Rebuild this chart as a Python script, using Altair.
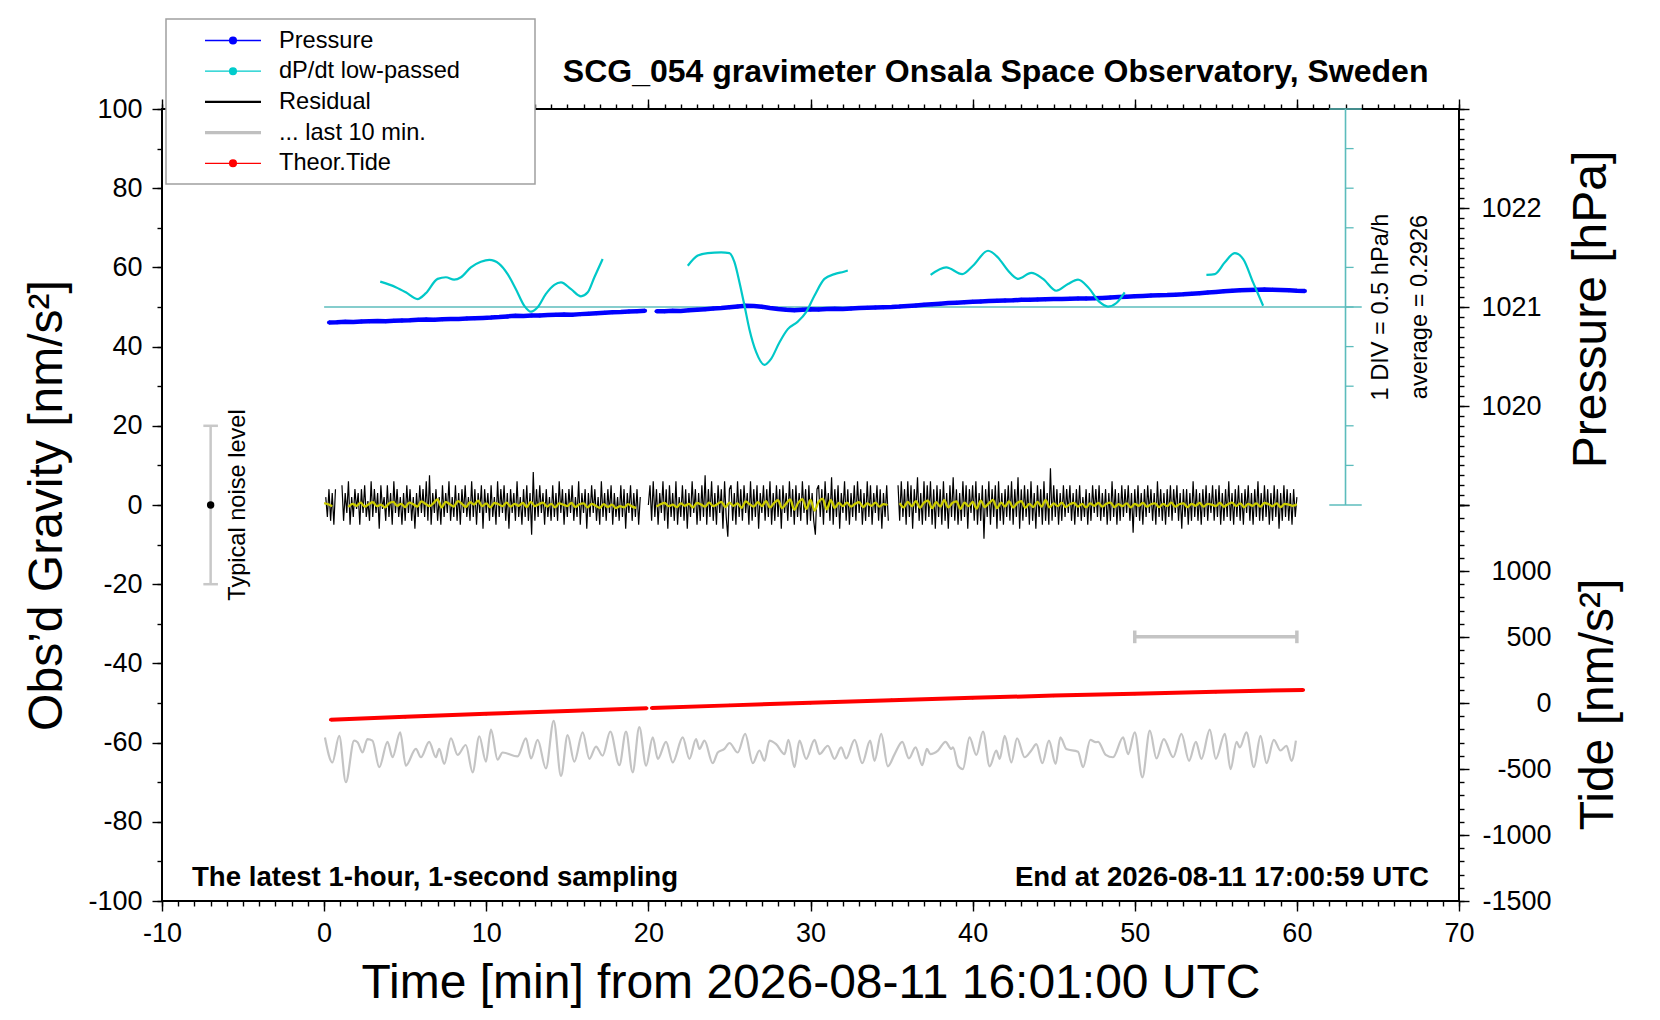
import altair as alt
import pandas as pd

FONT = "Liberation Sans"

# ---------------- texts ----------------
chart_title = "SCG_054 gravimeter Onsala Space Observatory, Sweden"
x_title = "Time [min] from 2026-08-11 16:01:00 UTC"
y_title = "Obs\u2019d Gravity [nm/s\u00b2]"
p_title = "Pressure [hPa]"
t_title = "Tide [nm/s\u00b2]"
foot_left = "The latest 1-hour, 1-second sampling"
foot_right = "End at 2026-08-11 17:00:59 UTC"
noise_label = "Typical noise level"
div_label = "1 DIV = 0.5 hPa/h"
avg_label = "average = 0.2926"

series_names = ["Pressure", "dP/dt low-passed", "Residual", "... last 10 min.", "Theor.Tide"]
series_colors = ["#0000ff", "#00cccc", "#000000", "#c0c0c0", "#ff0000"]

AVG = 0.2926   # hPa/h, drawn at gravity 50
DIV = 0.5      # hPa/h per 10 nm/s^2 division

x_domain = [-10, 70]
g_domain = [-100, 100]
p_domain = [1015, 1023]      # 1019..1023 hPa spans gravity 0..100
t_domain = [-1500, 4500]     # -1500..1500 nm/s^2 spans gravity -100..0
d_domain = [AVG - 15 * DIV, AVG + 5 * DIV]

# ---------------- data ----------------
# residual gravity (nm/s^2), every 0.1 min from t = 0.1
residual_vals = [float(v) for v in """
2 -3 4 -4 3 -5 4 1 0 -2
5 -4 3 -2 6 -5 2 -3 4 -1
3 -5 4 -2 5 -3 1 -4 6 -3
4 -2 3 -6 5 -1 2 -4 5 -3
3 -5 6 -2 4 -3 2 -5 3 -4
5 -2 4 -4 2 -6 3 -3 5 -2
4 -3 6 -4 7.5 -5 3 -2 4 -4
2 -5 5 -3 3 -2 6 -4 2 -3
5 -4 3 -5 4 -2 5 -3 2 -4
6 -3 4 -5 3 -2 5 -6 4 -2
3 -4 5 -3 2 -5 6 -3 4 -2
5 -4 3 -6 4 -2 3 -4 6 -3
2 -5 4 -3 5 -4 3 -7.5 8.3 -4
4 -3 5 -2 3 -5 4 -3 2 -4
5 -3 3 -4 6 -2 4 -5 3 -3
4 -2 5 -4 2 -3 6 -5 3 -2
4 -6 3 -3 5 -2 4 -4 2 -5
6 -3 3 -4 4 -2 5 -5 3 -3
2 -4 5 -3 4 -6 3 -2 5 -4
3 -3 4 -5 2 0 0 0 0 0
5 -4 6 -3 4 -5 3 -2 6 -4
4 -6 5 -3 3 -4 6 -5 2 -3
5 -4 4 -6 3 -3 6 -2 4 -5
3 -4 5 -3 7.5 -5 4 -3 6 -4
3 -5 5 -2 4 -6 6 -3 -8 4
5 -4 3 -5 6 -3 4 -4 5 -2
3 -5 6 -4 4 -3 5 -6 3 -2
5 -4 4 -3 6 -5 3 -4 5 -3
4 -6 5 -2 3 -4 6 -3 4 -5
5 -3 3 -4 6 -2 4 -5 5 -4
3 -4 -7.5 4 5 -3 4 -5 6 -2
3 -4 7 -5 4 -3 5 -6 3 -2
6 -4 4 -5 3 -3 5 -4 6 -2
4 -5 3 -4 6 -3 5 -5 3 -2
5 -4 4 -6 3 -3 5 -4 0 0
0 0 0 5 -4 6 -3 4 -5 6
-3 5 -6 4 -2 7 -4 3 -5 6
-4 5 -3 6 -5 4 -6 5 -3 4
-5 6 -4 3 -6 5 -3 7 -4 4
-5 3 -4 6 -3 5 -6 4 -2 5
-4 6 -5 3 -4 5 -8.5 4 -3 6
-5 4 -3 5 -6 6 -4 3 -5 4
-3 5 -4 6 -5 4 -3 7 -6 4
-4 5 -3 4 -5 6 -4 3 -6 5
-3 4 -5 6 -4 3 -5 9.3 -4 5
-3 4 -5 3 -4 5 -3 4 -2 5
-4 3 -5 4 -3 5 -4 2 -3 4
-5 3 -4 5 -2 4 -3 5 -4 3
-3 4 -5 3 -4 6 -3 4 -5 3
-4 5 -3 4 -2 5 -4 3 -7 4
-3 5 -4 3 -5 4 -3 5 -2 4
-4 3 -5 6 -3 4 -4 3 -5 4
-3 5 -4 4 -2 5 -4 3 -6 4
-3 4 -5 3 -4 6 -3 4 -4 3
-5 4 -3 5 -4 3 -2 5 -4 4
-3 5 -5 3 -4 4 -3 6 -4 3
-5 4 -3 5 -4 3 -5 4 -2 5
-4 3 -5 4 -3 6 -4 3 -4 5
-3 4 -5 3 -4 5 -3 4 -6 3
-4 5 -3 4 -4 3 -5 4 -3 2
""".split()]
residual_gaps = [(0.72, 1.03), (19.55, 20.0), (34.84, 35.36)]

# low-passed residual (yellow), every 0.25 min from t = 0
smooth_vals = [float(v) for v in """
0.5 0.2 -0.3 0 0 0.4 -0.5 0.3 -0.2 0.6
-0.4 0.2 0.7 -0.3 0.1 -0.6 0.4 0.8 -0.2 0.3
-0.5 0.6 0.2 -0.4 0.9 0.3 -0.3 0.5 1.4 -0.6
0.8 0.2 -0.4 1.0 0.3 -0.5 0.7 0.1 1.1 -0.3
0.4 -0.6 0.5 0.2 -0.3 0.6 -0.4 0.3 -0.2 0.5
-0.5 0.8 -0.3 0.2 0.6 -0.4 0.3 -0.6 0.4 0.1
-0.3 0.5 -0.5 0.2 0.4 -0.6 0.3 -0.2 -0.7 0.2
-0.5 0.1 -0.8 -0.3 -0.6 0.2 -0.4 -0.7 0 0
0 0.3 -0.4 0.2 0.5 -0.3 0.1 -0.5 0.4 -0.2
0.3 -0.6 0.5 0.1 -0.4 0.6 -0.3 0.2 0.8 -0.5
0.6 -0.2 0.4 -0.7 0.9 0.2 -0.4 0.7 -0.3 1.0
-0.6 0.5 1.2 -0.8 0.4 1.4 -1.2 0.6 1.5 -1.0
1.3 -1.4 0.8 1.6 -1.1 1.2 -0.7 0.5 -0.3 0.6
-0.4 0.3 0.7 -0.5 0.4 -0.2 0.6 -0.4 0.2 0
0 0 0.5 -0.6 0.8 -0.3 1.0 -0.7 0.6 1.1
-0.8 0.7 -0.4 1.2 -0.6 0.5 0.9 -1.0 0.6 -0.3
0.8 -0.9 1.1 -0.5 0.4 1.3 -0.8 0.6 -0.4 0.9
-0.6 0.5 1.0 -0.7 0.3 -0.5 0.8 -0.4 1.2 -0.6
0.4 -0.3 0.6 -0.5 0.2 0.5 -0.4 0.3 -0.6 0.4
-0.2 0.5 -0.4 0.3 0.6 -0.5 0.2 -0.3 0.4 -0.6
0.3 -0.2 0.5 -0.4 0.2 0.4 -0.5 0.3 -0.3 0.6
-0.4 0.2 0.4 -0.5 0.3 -0.2 0.5 -0.4 0.3 0.1
-0.3 0.5 -0.4 0.2 0.6 -0.3 0.4 -0.5 0.3 -0.2
0.4 -0.4 0.5 0.2 -0.3 0.4 -0.5 0.3 0.1 -0.2 0.2
""".split()]
smooth_gaps = [(0.65, 1.3), (19.35, 20.4), (34.8, 35.5)]

# "... last 10 min." trace (nm/s^2): turning points
last10_t = [0.05, 0.51, 0.93, 1.34, 1.85, 2.06, 2.37, 2.67, 2.98, 3.40, 3.91, 4.22, 4.69, 5.04,
            5.66, 5.97, 6.48, 6.89, 7.10, 7.41, 7.82, 8.23, 8.74, 9.16, 9.57, 9.98, 10.29, 10.70,
            11.01, 11.93, 12.45, 12.76, 13.17, 13.68, 14.16, 14.61, 15.02, 15.43, 15.95, 16.36,
            16.77, 17.18, 17.65, 18.21, 18.62, 19.03, 19.44, 19.86, 20.27, 20.58, 21.09, 21.50,
            22.12, 22.53, 22.94, 23.15, 23.46, 23.97, 24.28, 24.69, 25.00, 25.51, 25.97, 26.44,
            26.85, 27.16, 27.47, 27.88, 28.40, 28.64, 29.01, 29.32, 29.73, 30.25,
            30.56, 31.07, 31.48, 31.89, 32.20, 32.72, 33.19, 33.68, 33.95, 34.36, 34.77, 35.19,
            35.66, 36.07, 36.48, 36.89, 37.18, 37.39, 37.86, 38.33, 38.68, 38.79, 39.10, 39.40,
            39.81, 40.23, 40.64, 41.05, 41.46, 41.67, 41.98, 42.39, 42.74, 43.21, 43.62, 43.93,
            44.30, 44.71, 45.12, 45.41, 45.78, 46.50, 46.81, 47.26, 47.59, 47.74, 48.21, 48.66,
            49.28, 49.59, 50.00, 50.47, 50.93, 51.34, 51.79, 52.37, 52.88, 53.35, 53.77, 54.11,
            54.63, 55.00, 55.56, 55.91, 56.28, 56.48, 56.89, 57.35, 57.76, 58.13, 58.58, 58.99,
            59.36, 59.67, 59.94]
last10_v = [-58.7, -65.0, -58.3, -70.0, -59.5, -59.9, -62.5, -59.1, -59.5, -66.2, -59.8, -63.7,
            -57.4, -65.8, -61.6, -63.7, -59.8, -63.7, -61.6, -65.4, -58.9, -63.1, -60.6, -67.5,
            -58.4, -64.8, -56.7, -64.3, -62.5, -63.5, -58.9, -64.0, -59.3, -66.5, -54.5, -68.4,
            -58.1, -64.8, -57.4, -64.1, -61.0, -63.3, -57.2, -65.7, -57.2, -67.5, -56.1, -65.8,
            -58.7, -64.1, -59.8, -65.0, -58.7, -64.1, -59.1, -61.6, -59.5, -65.2, -62.5, -61.6,
            -60.1, -62.5, -57.8, -65.2, -62.0, -64.6, -59.5, -60.4, -62.9, -59.3, -66.2, -59.5,
            -64.1, -59.3,
            -62.9, -60.8, -64.1, -61.2, -64.0, -59.3, -65.2, -59.5, -64.6, -57.8, -66.0, -62.9,
            -59.8, -64.0, -61.2, -65.7, -61.6, -62.9, -62.0, -59.8, -61.6, -61.2, -65.8, -66.7,
            -58.7, -63.1, -57.2, -66.0, -62.0, -64.1, -58.3, -65.0, -58.9, -63.7, -62.0, -60.4,
            -65.2, -59.5, -65.4, -58.7, -61.6, -62.3, -66.2, -59.3, -59.9, -59.8, -63.1, -63.7,
            -58.7, -62.9, -57.4, -68.8, -57.0, -64.0, -59.1, -63.7, -57.8, -64.6, -59.8, -64.1,
            -56.7, -64.1, -57.8, -66.7, -59.8, -61.2, -57.4, -66.2, -58.3, -65.2, -59.3, -62.0,
            -60.8, -64.6, -59.5]

# pressure (hPa), every 0.5 min: part 1 from 0.3 min, part 2 from 20.5 min
pressure_1 = [1020.844, 1020.846, 1020.850, 1020.848, 1020.853, 1020.856, 1020.858, 1020.855,
              1020.861, 1020.864, 1020.866, 1020.870, 1020.873, 1020.871, 1020.877, 1020.880,
              1020.878, 1020.884, 1020.887, 1020.890, 1020.893, 1020.898, 1020.905, 1020.912,
              1020.910, 1020.915, 1020.913, 1020.918, 1020.921, 1020.924, 1020.922, 1020.928,
              1020.933, 1020.937, 1020.942, 1020.947, 1020.950, 1020.955, 1020.958, 1020.962]
pressure_2 = [1020.956, 1020.958, 1020.962, 1020.960, 1020.966, 1020.972, 1020.978, 1020.984,
              1020.990, 1020.998, 1021.006, 1021.012, 1021.010, 1021.002, 1020.990, 1020.980,
              1020.972, 1020.968, 1020.972, 1020.976, 1020.974, 1020.980, 1020.982, 1020.980,
              1020.986, 1020.990, 1020.992, 1020.995, 1020.998, 1021.000, 1021.004, 1021.010,
              1021.016, 1021.022, 1021.028, 1021.034, 1021.040, 1021.044, 1021.048, 1021.052,
              1021.056, 1021.060, 1021.064, 1021.066, 1021.068, 1021.072, 1021.074, 1021.076,
              1021.078, 1021.080, 1021.082, 1021.084, 1021.085, 1021.087, 1021.088, 1021.092,
              1021.096, 1021.100, 1021.104, 1021.108, 1021.112, 1021.116, 1021.118, 1021.120,
              1021.124, 1021.128, 1021.134, 1021.140, 1021.146, 1021.152, 1021.158, 1021.164,
              1021.168, 1021.172, 1021.175, 1021.176, 1021.174, 1021.172, 1021.168, 1021.164,
              1021.162]

# theoretical tide (nm/s^2)
tide_t1 = [0.4, 5, 10, 15, 19.9]
tide_v1 = [-126, -104, -82, -60, -39]
tide_t2 = [20.2, 25, 30, 35, 40, 45, 50, 55, 60.4]
tide_v2 = [-38, -18, 2, 21, 39, 56, 71, 86, 99]

# dP/dt low-passed (hPa/h), four pieces
dpdt_t1 = [3.46, 4.42, 5.04, 5.76, 6.28, 7.0, 7.51, 8.02, 8.44, 9.05, 9.67, 10.19, 10.8, 11.32,
           11.83, 12.35, 12.76, 13.17, 13.68, 14.2, 14.61, 15.23, 15.84, 16.26, 16.67, 17.18]
dpdt_v1 = [0.613, 0.543, 0.478, 0.393, 0.468, 0.648, 0.668, 0.638, 0.668, 0.793, 0.863, 0.888,
           0.838, 0.708, 0.518, 0.308, 0.233, 0.288, 0.458, 0.573, 0.603, 0.518, 0.428, 0.478,
           0.668, 0.898]
dpdt_t2 = [22.43, 23.05, 23.66, 24.49, 25.0, 25.31, 25.62, 25.93, 26.23, 26.65, 27.16, 27.57,
           28.09, 28.6, 29.22, 29.73, 30.25, 30.86, 31.48, 32.06, 32.3]
dpdt_v2 = [0.813, 0.943, 0.973, 0.983, 0.973, 0.858, 0.603, 0.308, 0.013, -0.277, -0.437, -0.362,
           -0.152, 0.013, 0.108, 0.228, 0.438, 0.648, 0.708, 0.738, 0.753]
dpdt_t3 = [37.41, 38.37, 39.36, 40.02, 40.95, 41.56, 42.18, 42.8, 43.62, 44.34, 45.16, 45.88,
           46.5, 47.12, 47.84, 48.35, 48.87, 49.38]
dpdt_v3 = [0.698, 0.793, 0.708, 0.813, 1.003, 0.918, 0.753, 0.648, 0.723, 0.648, 0.498, 0.583,
           0.638, 0.543, 0.353, 0.298, 0.343, 0.478]
dpdt_t4 = [54.42, 54.94, 55.56, 56.17, 56.69, 57.3, 57.92]
dpdt_v4 = [0.698, 0.708, 0.858, 0.973, 0.898, 0.603, 0.308]

noise_t, noise_half = -7, 20          # typical noise level bar
last10_bar = (50, 60, -33.3)          # gray bar marking the last 10 minutes

# ---------------- frames ----------------
def segmented(times, values, gaps):
    rows = []
    for t, v in zip(times, values):
        if any(a <= t < b for a, b in gaps):
            continue
        rows.append({"t": t, "v": v, "seg": int(sum(t >= b for a, b in gaps))})
    return pd.DataFrame(rows)

res_df = segmented([round(0.1 * (i + 1), 3) for i in range(len(residual_vals))], residual_vals, residual_gaps)
sm_df = segmented([round(0.25 * i, 3) for i in range(len(smooth_vals))], smooth_vals, smooth_gaps)
last10_df = pd.DataFrame({"t": last10_t, "v": last10_v})
pres_df = pd.concat([
    pd.DataFrame({"t": [round(0.3 + 0.5 * i, 3) for i in range(len(pressure_1))], "v": pressure_1, "seg": 0}),
    pd.DataFrame({"t": [round(20.5 + 0.5 * i, 3) for i in range(len(pressure_2))], "v": pressure_2, "seg": 1}),
])
tide_df = pd.concat([
    pd.DataFrame({"t": tide_t1, "v": tide_v1, "seg": 0}),
    pd.DataFrame({"t": tide_t2, "v": tide_v2, "seg": 1}),
])
dpdt_df = pd.concat([
    pd.DataFrame({"t": tt, "v": vv, "seg": k})
    for k, (tt, vv) in enumerate([(dpdt_t1, dpdt_v1), (dpdt_t2, dpdt_v2), (dpdt_t3, dpdt_v3), (dpdt_t4, dpdt_v4)])
])

# ---------------- helpers ----------------
def ex(field, axis=None):
    return alt.X(field, type="quantitative", scale=alt.Scale(domain=x_domain, nice=False, zero=False), axis=axis)

def ey(field, domain, axis=None):
    return alt.Y(field, type="quantitative", scale=alt.Scale(domain=domain, nice=False, zero=False), axis=axis)

ax_x_major = alt.Axis(orient="bottom", values=list(range(-10, 71, 10)), tickSize=10, labelPadding=9,
                      labelExpr="toString(datum.value)", title=x_title, titleX=648.5, titleY=96,
                      titleBaseline="alphabetic", titleAlign="center")
ax_x_minor = alt.Axis(orient="bottom", values=list(range(-10, 71)), tickSize=5, labels=False, title=None)
ax_x_top_major = alt.Axis(orient="top", values=list(range(-10, 71, 10)), tickSize=10, labels=False, title=None)
ax_x_top_minor = alt.Axis(orient="top", values=list(range(-10, 71)), tickSize=5, labels=False, title=None)
ax_g_major = alt.Axis(orient="left", values=list(range(-100, 101, 20)), tickSize=10, labelPadding=10,
                      labelExpr="toString(datum.value)", title=y_title, titleX=-101, titleY=396,
                      titleAngle=270, titleBaseline="alphabetic", titleAlign="center")
ax_g_minor = alt.Axis(orient="left", values=list(range(-100, 101, 10)), tickSize=5, labels=False, title=None)
ax_p_major = alt.Axis(orient="right", values=[1019, 1020, 1021, 1022, 1023], tickSize=10, labelPadding=12,
                      labelAlign="left",
                      labelExpr="(datum.value == 1019 || datum.value == 1023) ? '' : toString(datum.value)",
                      title=p_title, titleX=146, titleY=200, titleAngle=270, titleBaseline="alphabetic",
                      titleAlign="center")
ax_p_minor = alt.Axis(orient="right", values=[round(1019 + 0.1 * i, 1) for i in range(41)], tickSize=5,
                      labels=False, title=None)
ax_t_major = alt.Axis(orient="right", values=list(range(-1500, 1501, 500)), tickSize=10, labelPadding=82,
                      labelAlign="right", labelExpr="datum.value == 1500 ? '' : toString(datum.value)",
                      title=t_title, titleX=153, titleY=595, titleAngle=270, titleBaseline="alphabetic",
                      titleAlign="center")
ax_t_minor = alt.Axis(orient="right", values=list(range(-1500, 1501, 100)), tickSize=5, labels=False, title=None)

CYAN_AX = "#5cbcbc"
GRAY = "#c4c4c4"

# ---------------- layers ----------------
avg_df = pd.DataFrame({"t0": [0], "t1": [64], "d": [AVG]})
L_avg = alt.Chart(avg_df).mark_rule(color=CYAN_AX, strokeWidth=1.6).encode(
    x=ex("t0"), x2="t1", y=ey("d", d_domain))

cax_df = pd.DataFrame({"t": [63], "d0": [AVG - 5 * DIV], "d1": [AVG + 5 * DIV]})
L_cax = alt.Chart(cax_df).mark_rule(color=CYAN_AX, strokeWidth=1.6).encode(
    x=ex("t"), y=ey("d0", d_domain), y2="d1")
ccap_df = pd.DataFrame({"t0": [62, 62], "t1": [64, 64], "d": [AVG - 5 * DIV, AVG + 5 * DIV]})
L_ccap = alt.Chart(ccap_df).mark_rule(color=CYAN_AX, strokeWidth=1.6).encode(
    x=ex("t0"), x2="t1", y=ey("d", d_domain))
ctick_df = pd.DataFrame({"t0": [63] * 9, "t1": [63.5] * 9, "d": [AVG + DIV * (k - 5) for k in range(1, 10)]})
L_ctick = alt.Chart(ctick_df).mark_rule(color=CYAN_AX, strokeWidth=1.3).encode(
    x=ex("t0"), x2="t1", y=ey("d", d_domain))

L_res = alt.Chart(res_df).mark_line(color="black", strokeWidth=1.2).encode(
    x=ex("t", ax_x_major), y=ey("v", g_domain, ax_g_major), detail="seg:N")
L_sm = alt.Chart(sm_df).mark_line(color="#cccc00", strokeWidth=2.3, interpolate="monotone").encode(
    x=ex("t", ax_x_minor), y=ey("v", g_domain, ax_g_minor), detail="seg:N")
L_last10 = alt.Chart(last10_df).mark_line(color=GRAY, strokeWidth=2.2, interpolate="monotone").encode(
    x=ex("t", ax_x_top_major), y=ey("v", g_domain))

bar_df = pd.DataFrame({"t0": [last10_bar[0]], "t1": [last10_bar[1]], "g": [last10_bar[2]]})
L_bar = alt.Chart(bar_df).mark_rule(color=GRAY, strokeWidth=3.5).encode(
    x=ex("t0", ax_x_top_minor), x2="t1", y=ey("g", g_domain))
barcap_df = pd.DataFrame({"t": [last10_bar[0], last10_bar[1]], "g0": [last10_bar[2] - 1.6] * 2,
                          "g1": [last10_bar[2] + 1.6] * 2})
L_barcap = alt.Chart(barcap_df).mark_rule(color=GRAY, strokeWidth=3.5).encode(
    x=ex("t"), y=ey("g0", g_domain), y2="g1")

noise_df = pd.DataFrame({"t": [noise_t], "g0": [-noise_half], "g1": [noise_half], "g": [0]})
L_noise = alt.Chart(noise_df).mark_rule(color="#c8c8c8", strokeWidth=2.5).encode(
    x=ex("t"), y=ey("g0", g_domain), y2="g1")
ncap_df = pd.DataFrame({"t0": [noise_t - 0.45] * 2, "t1": [noise_t + 0.45] * 2, "g": [-noise_half, noise_half]})
L_ncap = alt.Chart(ncap_df).mark_rule(color="#c8c8c8", strokeWidth=2.5).encode(
    x=ex("t0"), x2="t1", y=ey("g", g_domain))
L_dot = alt.Chart(noise_df).mark_circle(color="black", size=55, opacity=1).encode(
    x=ex("t"), y=ey("g", g_domain))

L_tide = alt.Chart(tide_df).mark_line(color="#ff0000", strokeWidth=4).encode(
    x=ex("t"), y=ey("v", t_domain, ax_t_major), detail="seg:N")
L_tidept = alt.Chart(tide_df).mark_circle(color="#ff0000", size=12, opacity=1).encode(
    x=ex("t"), y=ey("v", t_domain, ax_t_minor))

L_pres = alt.Chart(pres_df).mark_line(color="#0000ff", strokeWidth=4.5).encode(
    x=ex("t"), y=ey("v", p_domain, ax_p_major), detail="seg:N")
L_prespt = alt.Chart(pres_df).mark_circle(color="#0000ff", size=16, opacity=1).encode(
    x=ex("t"), y=ey("v", p_domain, ax_p_minor))

L_dpdt = alt.Chart(dpdt_df).mark_line(color="#00c8c8", strokeWidth=2.2, interpolate="monotone").encode(
    x=ex("t"), y=ey("v", d_domain), detail="seg:N")

rot_df = pd.DataFrame({"t": [-4.9, 65.63, 68.03], "g": [0, 50, 50], "text": [noise_label, div_label, avg_label]})
L_rot = alt.Chart(rot_df).mark_text(font=FONT, fontSize=23.6, angle=270, align="center",
                                    baseline="alphabetic", color="black").encode(
    x=ex("t"), y=ey("g", g_domain), text="text:N")

title_df = pd.DataFrame({"t": [41.42], "g": [106.9], "text": [chart_title]})
L_title = alt.Chart(title_df).mark_text(font=FONT, fontSize=32, fontWeight="bold", align="center",
                                        baseline="alphabetic", color="black").encode(
    x=ex("t"), y=ey("g", g_domain), text="text:N")
footl_df = pd.DataFrame({"t": [-8.15], "g": [-96.2], "text": [foot_left]})
L_footl = alt.Chart(footl_df).mark_text(font=FONT, fontSize=27.6, fontWeight="bold", align="left",
                                        baseline="alphabetic", color="black").encode(
    x=ex("t"), y=ey("g", g_domain), text="text:N")
footr_df = pd.DataFrame({"t": [68.15], "g": [-96.2], "text": [foot_right]})
L_footr = alt.Chart(footr_df).mark_text(font=FONT, fontSize=27.6, fontWeight="bold", align="right",
                                        baseline="alphabetic", color="black").encode(
    x=ex("t"), y=ey("g", g_domain), text="text:N")

# legend symbols: line with a dot / plain lines (custom SVG paths, 1 unit = 11.5 px,
# drawn to the right of the small symbol box so rows stay compact)
anchor = "M-1.09,0"
thin = "M1.52,0L6.39,0"
dot = ("M3.66,0A0.296,0.296 0 1,0 4.252,0A0.296,0.296 0 1,0 3.66,0"
       "M3.756,0A0.2,0.2 0 1,0 4.156,0A0.2,0.2 0 1,0 3.756,0"
       "M3.852,0A0.104,0.104 0 1,0 4.06,0A0.104,0.104 0 1,0 3.852,0")
thick2 = "M1.52,-0.049L6.39,-0.049M1.52,0.049L6.39,0.049"
thick3 = "M1.52,-0.078L6.39,-0.078M1.52,0L6.39,0M1.52,0.078L6.39,0.078"
series_paths = [anchor + thin + dot, anchor + thin + dot, anchor + thick2, anchor + thick3, anchor + thin + dot]

NB = "\u00a0" * 10 + "\u200b"
leg = alt.Legend(orient="none", legendX=4, legendY=-90, title=None, zindex=1,
                 labelExpr=f"datum.label == 'dP/dt low-passed' ? datum.label + '{NB}' : datum.label")
legend_df = pd.DataFrame({"series": series_names, "t": [0.0] * 5, "v": [0.0] * 5})
L_leg = alt.Chart(legend_df).transform_filter("false").mark_point(
    filled=False, size=529, strokeWidth=1.3, opacity=1).encode(
    x=ex("t"), y=ey("v", g_domain),
    color=alt.Color("series:N", scale=alt.Scale(domain=series_names, range=series_colors), legend=leg),
    shape=alt.Shape("series:N", scale=alt.Scale(domain=series_names, range=series_paths), legend=leg),
)

chart = alt.layer(
    L_avg, L_cax, L_ccap, L_ctick,
    L_res, L_sm, L_last10, L_bar, L_barcap,
    L_noise, L_ncap, L_dot,
    L_tide, L_tidept, L_pres, L_prespt, L_dpdt,
    L_rot, L_title, L_footl, L_footr, L_leg,
).resolve_scale(
    x="independent", y="independent"
).properties(
    width=1297, height=792,
    autosize=alt.AutoSizeParams(type="none"),
    padding={"left": 154, "top": 101, "right": 180, "bottom": 107},
).configure_view(
    stroke="#000000", strokeWidth=2
).configure_axis(
    labelFont=FONT, labelFontSize=27, labelColor="black",
    tickColor="black", tickWidth=1.4,
    titleFont=FONT, titleFontSize=48, titleFontWeight="normal", titleColor="black",
    grid=False, domain=False, labelFlush=False, labelOverlap=False,
).configure_legend(
    padding=9, fillColor="white", strokeColor="#a0a0a0", strokeWidth=1.5, cornerRadius=0,
    labelFont=FONT, labelFontSize=23.6, labelColor="black", labelOffset=79, labelLimit=600,
    rowPadding=5.7, symbolSize=529, symbolStrokeWidth=1.3,
)

chart.save("out.html", embed_options={"renderer": "svg", "actions": False})
